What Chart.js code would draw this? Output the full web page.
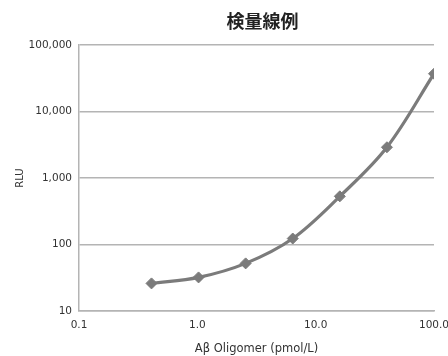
<!doctype html>
<html>
<head>
    <meta charset="utf-8">
    <title>検量線例</title>
    <script src="https://cdn.jsdelivr.net/npm/chart.js@4.4.1/dist/chart.umd.min.js"></script>
    <style>
    body { margin: 0; background: #fff; }
    #holder { width: 448px; height: 356px; }
    </style>
</head>
<body>
    <div id="holder"><canvas id="chart-area"></canvas></div>
    <script>
    // data (dilution series, factor 2.5)
    var concentrations = [0.41, 1.024, 2.56, 6.4, 16, 40, 100];
    var rlu = [26, 32, 52, 123, 530, 2900, 37000];
    var xTicks = [0.1, 1, 10, 100];
    var yTicks = [10, 100, 1000, 10000, 100000];
    var chartTitle = '検量線例';
    var xTitle = 'Aβ Oligomer (pmol/L)';
    var yTitle = 'RLU';

    var grey = '#7b7b7b';
    var gridGrey = '#b4b4b4';
    var textColor = '#333333';
    var tickFont = { family: "'DejaVu Sans', sans-serif", size: 10.5 };

    // title centred over the plot area, like the original
    var titlePlugin = {
        id: 'plotTitle',
        afterDraw: function(chart) {
            var ctx = chart.ctx, a = chart.chartArea;
            ctx.save();
            ctx.font = "bold 18px 'Noto Sans CJK JP', sans-serif";
            ctx.fillStyle = '#222';
            ctx.textAlign = 'center';
            ctx.textBaseline = 'middle';
            ctx.fillText(chartTitle, (a.left + a.right) / 2 + 6, 21);
            ctx.restore();
        }
    };

    var points = concentrations.map(function(c, i) { return { x: c, y: rlu[i] }; });

    var config = {
        type: 'line',
        data: {
            datasets: [{
                data: points,
                borderColor: grey,
                backgroundColor: grey,
                borderWidth: 3.2,
                tension: 0.35,
                pointStyle: 'rectRot',
                pointRadius: 5.5,
                pointBorderWidth: 1,
                pointBorderColor: grey,
                pointBackgroundColor: grey
            }]
        },
        options: {
            responsive: true,
            maintainAspectRatio: false,
            animation: false,
            layout: { padding: { top: 45, right: 0, left: 0, bottom: 0 } },
            plugins: {
                legend: { display: false },
                title: { display: false },
                tooltip: { enabled: false }
            },
            scales: {
                x: {
                    type: 'logarithmic',
                    min: 0.1,
                    max: 100,
                    afterBuildTicks: function(s) {
                        s.ticks = xTicks.map(function(v) { return { value: v }; });
                    },
                    afterFit: function(s) {
                        s.height = 45;
                        s.paddingRight = 14;
                    },
                    grid: { display: false, drawTicks: false },
                    border: { display: true, color: gridGrey, width: 1.5 },
                    ticks: {
                        padding: 8,
                        color: textColor,
                        font: tickFont,
                        maxRotation: 0,
                        autoSkip: false,
                        callback: function(v) { return Number(v).toFixed(1); }
                    },
                    title: {
                        display: true,
                        text: xTitle,
                        color: textColor,
                        font: { family: tickFont.family, size: 11.5 },
                        padding: { top: 0, bottom: 0 }
                    }
                },
                y: {
                    type: 'logarithmic',
                    min: 10,
                    max: 100000,
                    afterBuildTicks: function(s) {
                        s.ticks = yTicks.map(function(v) { return { value: v }; });
                    },
                    afterFit: function(s) {
                        s.width = 79;
                    },
                    grid: { color: gridGrey, lineWidth: 1.5, drawTicks: false },
                    border: { display: true, color: gridGrey, width: 1.5 },
                    ticks: {
                        padding: 7,
                        color: textColor,
                        font: tickFont,
                        autoSkip: false,
                        callback: function(v) { return Number(v).toLocaleString('en-US'); }
                    },
                    title: {
                        display: true,
                        text: yTitle,
                        color: textColor,
                        font: { family: tickFont.family, size: 10 },
                        padding: { top: 14, bottom: 0 }
                    }
                }
            }
        },
        plugins: [titlePlugin]
    };

    window.onload = function() {
        var ctx = document.getElementById('chart-area').getContext('2d');
        window.myChart = new Chart(ctx, config);
    };
    </script>
</body>
</html>
